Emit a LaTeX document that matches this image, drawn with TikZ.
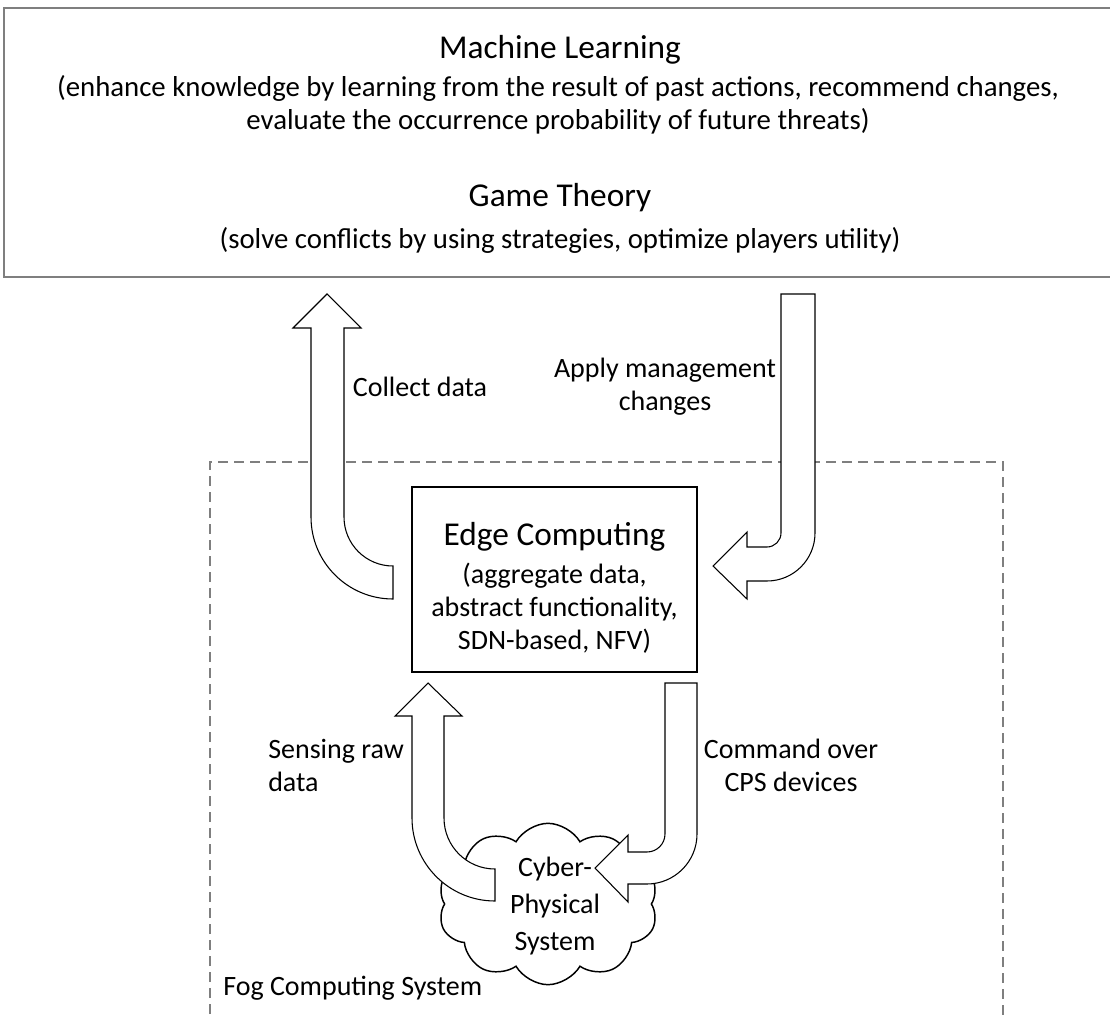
\documentclass[tikz,border=0pt]{standalone}
\usepackage{fontspec}
\setmainfont{Carlito}
\usetikzlibrary{shapes.symbols}
\definecolor{framegray}{HTML}{7F7F7F}
\tikzset{
  headtxt/.style={font=\fontsize{25}{30}\selectfont, inner sep=0pt},
  bodytxt/.style={font=\fontsize{21}{24.75}\selectfont, align=center, inner sep=0pt},
  toptxt/.style={font=\fontsize{21.6}{24.75}\selectfont, align=center, inner sep=0pt},
  cloudtxt/.style={font=\fontsize{21}{27.4}\selectfont, align=center, inner sep=0pt},
  blockarrow/.style={draw=black, fill=white, line width=0.8pt, line join=miter},
  topframe/.style={draw=framegray, line width=1.5pt},
  fogframe/.style={draw=framegray, line width=1.1pt, dash pattern=on 7.5pt off 4.5pt},
}
\begin{document}
\begin{tikzpicture}[x=0.75pt, y=-0.75pt]
\useasboundingbox (0,0) rectangle (1110,1019);
% top box (open on the right, beyond the picture)
\draw[topframe] (1111,8) -- (4,8) -- (4,277) -- (1111,277);
\node[headtxt] (ml) at (560,50) {Machine Learning};
\node[toptxt] (mltext) at (558,105) {(enhance knowledge by learning from the result of past actions, recommend changes,\\evaluate the occurrence probability of future threats)};
\node[headtxt] (gt) at (560,198) {Game Theory};
\node[toptxt] (gttext) at (560,240) {(solve conflicts by using strategies, optimize players utility)};
% fog computing frame
\draw[fogframe] (210,1030) -- (210,462) -- (1003,462) -- (1003,1030);
\node[bodytxt, anchor=west] (fog) at (223,988) {Fog Computing System};
% edge computing box
\node[draw=black, line width=0.9pt, minimum width=213.75pt, minimum height=138.75pt, inner sep=0pt] (edge) at (554.5,579.5) {};
\node[headtxt] (edgehead) at (554.5,537) {Edge Computing};
\node[bodytxt] (edgetext) at (554.5,608) {(aggregate data,\\abstract functionality,\\SDN-based, NFV)};
% cloud
\node[cloud, draw=black, line width=1.1pt, cloud puffs=10, cloud puff arc=120, aspect=1.35, minimum width=165pt, minimum height=121pt, inner sep=0pt] (cps) at (548,904) {};
% collect data arrow
\draw[blockarrow] (393,599) .. controls (347.7,599) and (311,562.3) .. (311,517) -- (311,328) -- (293,328) -- (327,294) -- (361,328) -- (344,328) -- (344,517) .. controls (344,544.1) and (365.9,566) .. (393,566) -- cycle;
% apply management arrow
\draw[blockarrow] (781,294) -- (815,294) -- (815,533) .. controls (815,559.5) and (793.5,581) .. (767,581) -- (747,581) -- (747,599) -- (713,566) -- (747,532) -- (747,547) -- (767,547) .. controls (774.7,547) and (781,540.7) .. (781,533) -- cycle;
% sensing arrow
\draw[blockarrow] (495,901) .. controls (449.2,901) and (412,863.8) .. (412,818) -- (412,716) -- (395,716) -- (428,683) -- (462,716) -- (444,716) -- (444,818) .. controls (444,846.2) and (466.8,869) .. (495,869) -- cycle;
% command arrow
\draw[blockarrow] (665,683) -- (697,683) -- (697,834) .. controls (697,861.6) and (674.6,884) .. (647,884) -- (628,884) -- (628,902) -- (595,868) -- (628,835) -- (628,852) -- (647,852) .. controls (656.9,852) and (665,843.9) .. (665,834) -- cycle;
\node[cloudtxt] (cpstext) at (555,906) {Cyber-\\Physical\\System};
% labels
\node[bodytxt] (collect) at (420,387) {Collect data};
\node[bodytxt] (apply) at (665,387) {Apply management\\changes};
\node[bodytxt, align=left, anchor=west] (sensing) at (268,765) {Sensing raw\\data};
\node[bodytxt] (command) at (791,765) {Command over\\CPS devices};
\end{tikzpicture}
\end{document}
